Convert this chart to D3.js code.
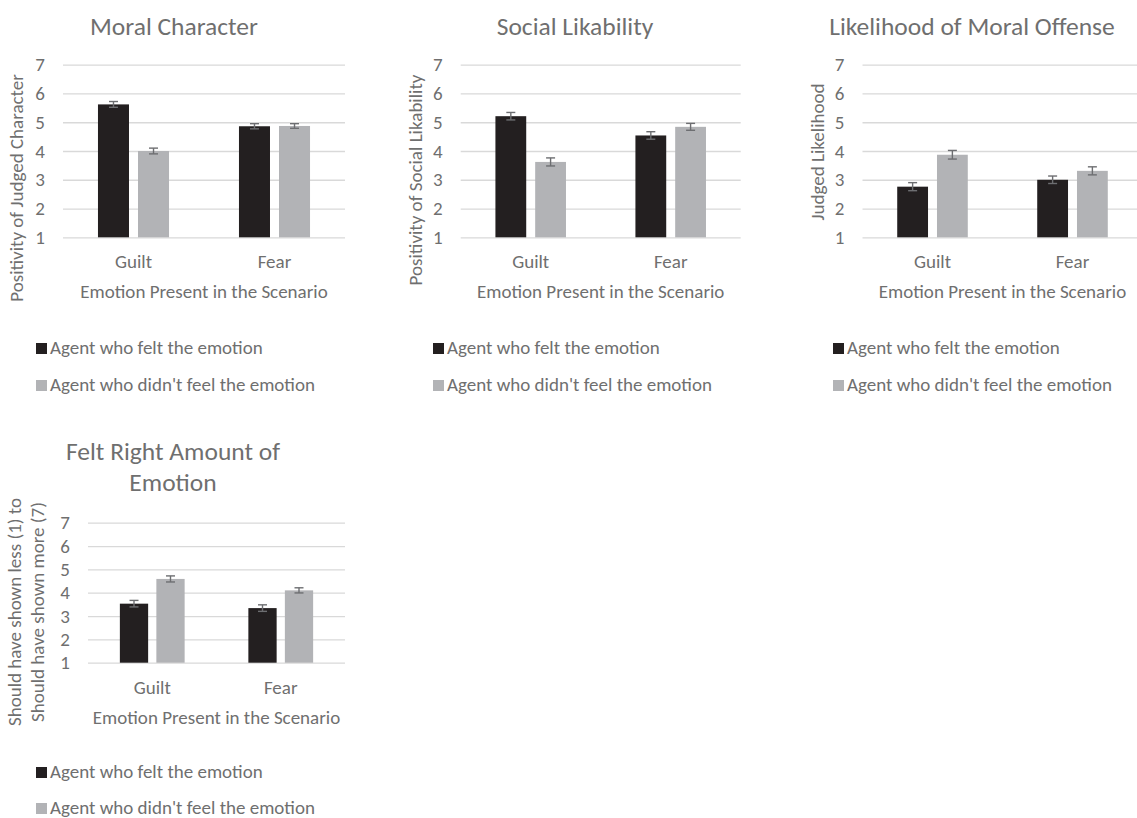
<!DOCTYPE html>
<html>
<head>
<meta charset="utf-8">
<script src="https://cdn.jsdelivr.net/npm/d3@7"></script>
<style>
  html, body { margin: 0; padding: 0; background: #fff; }
  svg { display: block; }
  text { font-family: Carlito, Calibri, Lato, "Open Sans", sans-serif; fill: #6f6f6f; }
</style>
</head>
<body>
<svg id="chart" width="1137" height="818"></svg>
<script>
// Shared categories, series and axis ticks
const categories = ["Guilt", "Fear"];
const seriesNames = ["Agent who felt the emotion", "Agent who didn't feel the emotion"];
const yTicks = [1, 2, 3, 4, 5, 6, 7];
const xAxisTitle = "Emotion Present in the Scenario";

// Moral Character
const moralFelt = [5.62, 4.86];
const moralFeltErr = [0.10, 0.09];
const moralNotFelt = [4.00, 4.87];
const moralNotFeltErr = [0.10, 0.08];

// Social Likability
const socialFelt = [5.21, 4.54];
const socialFeltErr = [0.13, 0.13];
const socialNotFelt = [3.62, 4.84];
const socialNotFeltErr = [0.14, 0.12];

// Likelihood of Moral Offense
const offenseFelt = [2.76, 3.00];
const offenseFeltErr = [0.14, 0.13];
const offenseNotFelt = [3.87, 3.31];
const offenseNotFeltErr = [0.15, 0.14];

// Felt Right Amount of Emotion
const amountFelt = [3.53, 3.34];
const amountFeltErr = [0.14, 0.14];
const amountNotFelt = [4.59, 4.10];
const amountNotFeltErr = [0.13, 0.11];

const seriesColors = ["#231f20", "#b2b3b6"];

// Layout of each small chart (pixel geometry only)
const panels = [
  {
    title: ["Moral Character"], titleX: 174, titleY: 35,
    yTitle: ["Positivity of Judged Character"], yTitleX: [23], yTitleY: 188,
    left: 63, right: 345, top: 64.7, bottom: 237.3, gridRight: 345,
    legendX: 36, legendY: [354, 391], clipRight: 400,
    felt: moralFelt, feltErr: moralFeltErr, notFelt: moralNotFelt, notFeltErr: moralNotFeltErr
  },
  {
    title: ["Social Likability"], titleX: 575, titleY: 35,
    yTitle: ["Positivity of Social Likability"], yTitleX: [422], yTitleY: 180,
    left: 460.7, right: 740.7, top: 64.7, bottom: 237.3, gridRight: 740.7,
    legendX: 433, legendY: [354, 391], clipRight: 800,
    felt: socialFelt, feltErr: socialFeltErr, notFelt: socialNotFelt, notFeltErr: socialNotFeltErr
  },
  {
    title: ["Likelihood of Moral Offense"], titleX: 972, titleY: 35,
    yTitle: ["Judged Likelihood"], yTitleX: [824], yTitleY: 152,
    left: 862.5, right: 1142.5, top: 64.7, bottom: 237.3, gridRight: 1137,
    legendX: 833, legendY: [354, 391], clipRight: 1137,
    felt: offenseFelt, feltErr: offenseFeltErr, notFelt: offenseNotFelt, notFeltErr: offenseNotFeltErr
  },
  {
    title: ["Felt Right Amount of", "Emotion"], titleX: 173, titleY: 460, titleLead: 31,
    yTitle: ["Should have shown less (1) to", "Should have shown more (7)"], yTitleX: [21, 44], yTitleY: 612,
    left: 88, right: 345, top: 522.7, bottom: 662.7, gridRight: 345,
    legendX: 36, legendY: [778, 814], clipRight: 346,
    felt: amountFelt, feltErr: amountFeltErr, notFelt: amountNotFelt, notFeltErr: amountNotFeltErr
  }
];

const svg = d3.select("#chart");
svg.append("rect").attr("width", 1137).attr("height", 818).attr("fill", "#fff");

const axisFont = 19;
const titleFont = 25.5;

panels.forEach((p, i) => {
  const clipId = "clip" + i;
  svg.append("clipPath").attr("id", clipId)
    .append("rect").attr("x", 0).attr("y", 0).attr("width", p.clipRight).attr("height", 818);
  const g = svg.append("g").attr("clip-path", `url(#${clipId})`);

  const y = d3.scaleLinear().domain([1, 7]).range([p.bottom, p.top]);
  const x = d3.scaleBand().domain(categories).range([p.left, p.right]);
  const bw = x.bandwidth();
  const barW = bw * 0.22;
  const gap = bw * 0.064;
  const total = 2 * barW + gap;
  const inner = d3.scaleBand().domain([0, 1]).range([-total / 2, total / 2])
    .paddingInner(gap / (barW + gap));

  // Horizontal gridlines with value labels
  const yAxis = d3.axisLeft(y).tickValues(yTicks).tickFormat(d3.format("d"))
    .tickSizeInner(-(p.gridRight - p.left)).tickSizeOuter(0).tickPadding(18);
  const ya = g.append("g").attr("transform", `translate(${p.left},0)`).call(yAxis);
  ya.select(".domain").remove();
  ya.attr("font-family", null).attr("font-size", null);
  ya.selectAll(".tick line").attr("stroke", "#d9d9d9").attr("stroke-width", 1.3);
  ya.selectAll(".tick text").attr("font-size", axisFont).attr("fill", "#6f6f6f");

  // Bars
  const rows = categories.map((c, k) => ({
    cat: c,
    vals: [
      { s: 0, v: p.felt[k], e: p.feltErr[k] },
      { s: 1, v: p.notFelt[k], e: p.notFeltErr[k] }
    ]
  }));
  const grp = g.selectAll(".cat").data(rows).join("g")
    .attr("transform", d => `translate(${x(d.cat) + bw / 2},0)`);
  grp.selectAll("rect").data(d => d.vals).join("rect")
    .attr("x", d => inner(d.s))
    .attr("width", inner.bandwidth())
    .attr("y", d => y(d.v))
    .attr("height", d => y(1) - y(d.v))
    .attr("fill", d => seriesColors[d.s]);

  // Error bars
  const eb = grp.selectAll(".err").data(d => d.vals).join("g").attr("class", "err")
    .attr("stroke", "#6d6e71").attr("stroke-width", 1.4).attr("fill", "none");
  const cap = 4.5;
  const cx = d => inner(d.s) + inner.bandwidth() / 2;
  eb.append("line")
    .attr("x1", cx).attr("x2", cx)
    .attr("y1", d => y(d.v + d.e)).attr("y2", d => y(d.v - d.e));
  eb.append("line")
    .attr("x1", d => cx(d) - cap).attr("x2", d => cx(d) + cap)
    .attr("y1", d => y(d.v + d.e)).attr("y2", d => y(d.v + d.e));
  eb.append("line")
    .attr("x1", d => cx(d) - cap).attr("x2", d => cx(d) + cap)
    .attr("y1", d => y(d.v - d.e)).attr("y2", d => y(d.v - d.e));

  // Category labels
  g.selectAll(".catlab").data(categories).join("text")
    .attr("x", d => x(d) + bw / 2)
    .attr("y", p.bottom + 31)
    .attr("text-anchor", "middle")
    .attr("font-size", axisFont)
    .text(d => d);

  // X axis title
  g.append("text")
    .attr("x", (p.left + p.right) / 2)
    .attr("y", p.bottom + 61)
    .attr("text-anchor", "middle")
    .attr("font-size", axisFont)
    .text(xAxisTitle);

  // Y axis title (rotated)
  p.yTitle.forEach((t, j) => {
    g.append("text")
      .attr("transform", `translate(${p.yTitleX[j]},${p.yTitleY}) rotate(-90)`)
      .attr("text-anchor", "middle")
      .attr("font-size", axisFont)
      .text(t);
  });

  // Chart title
  p.title.forEach((t, j) => {
    g.append("text")
      .attr("x", p.titleX)
      .attr("y", p.titleY + j * (p.titleLead || 0))
      .attr("text-anchor", "middle")
      .attr("font-size", titleFont)
      .text(t);
  });

  // Legend
  seriesNames.forEach((name, j) => {
    g.append("rect")
      .attr("x", p.legendX).attr("y", p.legendY[j] - 11)
      .attr("width", 11).attr("height", 11)
      .attr("fill", seriesColors[j]);
    g.append("text")
      .attr("x", p.legendX + 14).attr("y", p.legendY[j])
      .attr("font-size", axisFont)
      .text(name);
  });
});
</script>
</body>
</html>
